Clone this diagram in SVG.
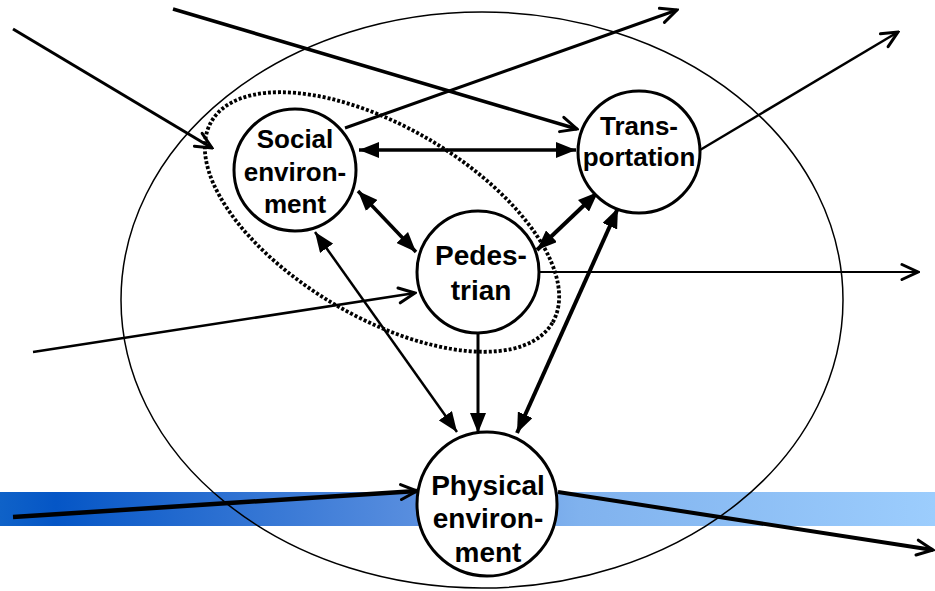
<svg xmlns="http://www.w3.org/2000/svg" width="935" height="591" viewBox="0 0 935 591">
<style>
.node{fill:#fff;stroke:#000;stroke-width:3}
.lbl{font-family:"Liberation Sans",Arial,sans-serif;font-weight:bold;font-size:26px;text-anchor:middle;fill:#000}
.big{font-size:28px}
.c{fill:none;stroke:#000;stroke-linecap:butt}
.open{marker-end:url(#open)}
.both{marker-start:url(#solid);marker-end:url(#solid)}
</style>
<defs>
<linearGradient id="band" x1="0" y1="0" x2="1" y2="0">
<stop offset="0" stop-color="#0f62c8"/>
<stop offset="0.06" stop-color="#0556c6"/>
<stop offset="0.45" stop-color="#5a8fdf"/>
<stop offset="0.62" stop-color="#80b2ee"/>
<stop offset="1" stop-color="#9ccdfd"/>
</linearGradient>
<marker id="open" viewBox="0 0 20 20" refX="18" refY="10" markerWidth="20" markerHeight="20" markerUnits="userSpaceOnUse" orient="auto">
<path d="M2,2.5 L18,10 L2,17.5" fill="none" stroke="#000" stroke-width="3" stroke-linecap="round" stroke-linejoin="miter"/>
</marker>
<marker id="solid" viewBox="0 0 20 16" refX="20" refY="8" markerWidth="20" markerHeight="16" markerUnits="userSpaceOnUse" orient="auto-start-reverse">
<path d="M0,0 L20,8 L0,16 z" fill="#000"/>
</marker>
</defs>
<rect x="0" y="492" width="935" height="34" fill="url(#band)"/>
<ellipse id="system" cx="482" cy="300" rx="361" ry="288" fill="none" stroke="#000" stroke-width="1.5"/>
<ellipse id="group" cx="382" cy="222" rx="198" ry="95" transform="rotate(30.6 382 222)" fill="none" stroke="#000" stroke-width="3.8" stroke-dasharray="3 2"/>
<g id="connectors">
<line class="c open" x1="13" y1="29" x2="212" y2="148" stroke-width="3"/>
<line class="c open" x1="173" y1="9" x2="577" y2="129" stroke-width="3.5"/>
<line class="c open" x1="345" y1="128" x2="677" y2="10" stroke-width="3"/>
<line class="c open" x1="700" y1="150" x2="898" y2="32" stroke-width="2.5"/>
<line class="c both" x1="359" y1="150" x2="576" y2="150" stroke-width="3.5"/>
<line class="c both" x1="358" y1="191" x2="416" y2="252" stroke-width="3.5"/>
<line class="c both" x1="537" y1="250" x2="598" y2="192" stroke-width="4"/>
<line class="c open" x1="538" y1="272" x2="918" y2="272" stroke-width="2"/>
<line class="c open" x1="33" y1="352" x2="415" y2="293" stroke-width="2.5"/>
<line class="c both" x1="315" y1="232" x2="457" y2="432" stroke-width="2.5"/>
<line class="c" x1="478" y1="333" x2="478" y2="433" stroke-width="3" marker-end="url(#solid)"/>
<line class="c both" x1="618" y1="208" x2="517" y2="433" stroke-width="4"/>
<line class="c open" x1="13" y1="517" x2="417" y2="491" stroke-width="4.5"/>
<line class="c open" x1="558" y1="492" x2="933" y2="550" stroke-width="4"/>
</g>
<g id="social">
<circle class="node" cx="295" cy="170" r="61"/>
<text class="lbl" x="295" y="148">Social</text>
<text class="lbl" x="295" y="181">environ-</text>
<text class="lbl" x="295" y="213">ment</text>
</g>
<g id="transportation">
<circle class="node" cx="639" cy="152" r="61"/>
<text class="lbl" x="639" y="135">Trans-</text>
<text class="lbl" x="639" y="166">portation</text>
</g>
<g id="pedestrian">
<circle class="node" cx="478" cy="272" r="61" stroke-width="4"/>
<text class="lbl big" x="481" y="265">Pedes-</text>
<text class="lbl big" x="481" y="300">trian</text>
</g>
<g id="physical">
<ellipse class="node" cx="487" cy="504" rx="70" ry="72"/>
<text class="lbl big" x="488" y="495">Physical</text>
<text class="lbl big" x="488" y="528">environ-</text>
<text class="lbl big" x="488" y="562">ment</text>
</g>
</svg>
